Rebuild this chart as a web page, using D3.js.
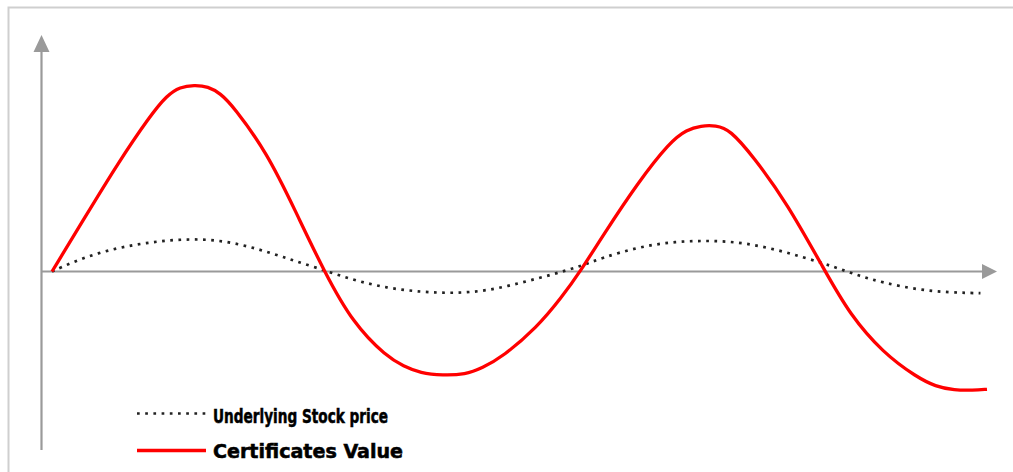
<!DOCTYPE html>
<html>
<head>
<meta charset="utf-8">
<script src="https://cdn.jsdelivr.net/npm/d3@7"></script>
<style>
  html, body { margin: 0; padding: 0; background: #fff; }
  svg { display: block; }
</style>
</head>
<body>
<svg id="chart" width="1013" height="472"></svg>
<script>
// ---- Data (x = time 0..100, y = value, 0 = x-axis) ----
const certTime = [0, 3.5, 7, 10.5, 12.3, 13.7, 15.2, 16.7, 18, 19.4, 23, 26, 29.1, 32.2, 35.8, 37.6, 39.4, 41.8, 44.2, 46, 48.2, 51.9, 54.5, 56.5, 59, 62.6, 66.1, 67.9, 69.4, 71, 72.5, 75, 78.6, 82.7, 85.3, 88.9, 92.5, 94.5, 96.5, 98.5, 100];
const certValue = [0, 29, 58, 84, 95, 99.5, 100.5, 99.8, 96, 89, 64, 33, 0, -28, -46, -51, -54.8, -56, -55.5, -52, -46, -30, -14, 0, 20, 47.5, 70, 76.5, 78.6, 78.8, 76.5, 62, 37, 0, -23, -44, -57, -62, -64, -64, -63.5];

const stockTime = [0, 3.3, 7, 10.5, 14, 17.6, 21.2, 24.7, 28.3, 32.2, 35.8, 39.4, 42.9, 46.5, 50.1, 53.6, 56.5, 58.9, 62.6, 66.1, 69.6, 73.3, 76.8, 80.3, 83.5, 86.4, 88.9, 92.5, 96, 99.3];
const stockValue = [0, 7.5, 12.8, 15.8, 17.5, 17.2, 13.5, 7.8, 2, -4.6, -8.9, -11, -11.8, -10.5, -6.2, -1.5, 2.8, 7.5, 13, 15.9, 16.7, 16, 12.7, 7.8, 2.8, -2.5, -6, -9.8, -11.3, -11.7];

const seriesNames = ["Underlying Stock price", "Certificates Value"];

// ---- Layout ----
const svg = d3.select("#chart");
const x = d3.scaleLinear().domain([0, 100]).range([52, 987]);
const y = d3.scaleLinear().domain([-100, 100]).range([271.5 + 185.5, 271.5 - 185.5]);
const axisColor = "#9a9a9a";

// frame
svg.append("rect")
  .attr("x", 8.5).attr("y", 7.5)
  .attr("width", 1013).attr("height", 480)
  .attr("fill", "none").attr("stroke", "#cfcfcf").attr("stroke-width", 2);

// y axis with arrow
const yAxisX = 41.5;
svg.append("line")
  .attr("x1", yAxisX).attr("x2", yAxisX)
  .attr("y1", 450).attr("y2", 50)
  .attr("stroke", axisColor).attr("stroke-width", 2.2);
svg.append("path")
  .attr("d", `M${yAxisX},35 L${yAxisX - 8},52 L${yAxisX + 8},52 Z`)
  .attr("fill", axisColor);

// x axis with arrow
const x0 = y(0);
svg.append("line")
  .attr("x1", yAxisX).attr("x2", 984)
  .attr("y1", x0).attr("y2", x0)
  .attr("stroke", axisColor).attr("stroke-width", 1.8);
svg.append("path")
  .attr("d", `M997,${x0} L982,${x0 - 7.5} L982,${x0 + 7.5} Z`)
  .attr("fill", axisColor);

// lines
const line = d3.line().x(d => x(d[0])).y(d => y(d[1])).curve(d3.curveBasis);

const stockData = stockTime.map((t, i) => [t, stockValue[i]]);
const certData = certTime.map((t, i) => [t, certValue[i]]);

svg.append("path")
  .datum(stockData)
  .attr("d", line)
  .attr("fill", "none")
  .attr("stroke", "#222")
  .attr("stroke-width", 2.7)
  .attr("stroke-dasharray", "2.7,5.5");

svg.append("path")
  .datum(certData)
  .attr("d", line)
  .attr("fill", "none")
  .attr("stroke", "#ff0000")
  .attr("stroke-width", 3.3);

// legend
const legend = [
  { name: seriesNames[0], y: 413.5, text: 422.5, dash: "2.7,5.5", color: "#222", w: 2.7, len: 175 },
  { name: seriesNames[1], y: 450.5, text: 457.5, dash: null, color: "#ff0000", w: 3.3, len: 190 }
];
legend.forEach(l => {
  svg.append("line")
    .attr("x1", 137).attr("x2", 206)
    .attr("y1", l.y).attr("y2", l.y)
    .attr("stroke", l.color).attr("stroke-width", l.w)
    .attr("stroke-dasharray", l.dash);
  svg.append("text")
    .attr("x", 213).attr("y", l.text)
    .attr("font-family", "'DejaVu Sans Condensed', 'DejaVu Sans', sans-serif")
    .attr("font-weight", "bold")
    .attr("font-size", 19)
    .attr("fill", "#000")
    .attr("stroke", "#000")
    .attr("stroke-width", 0.5)
    .attr("textLength", l.len)
    .attr("lengthAdjust", "spacingAndGlyphs")
    .text(l.name);
});
</script>
</body>
</html>
